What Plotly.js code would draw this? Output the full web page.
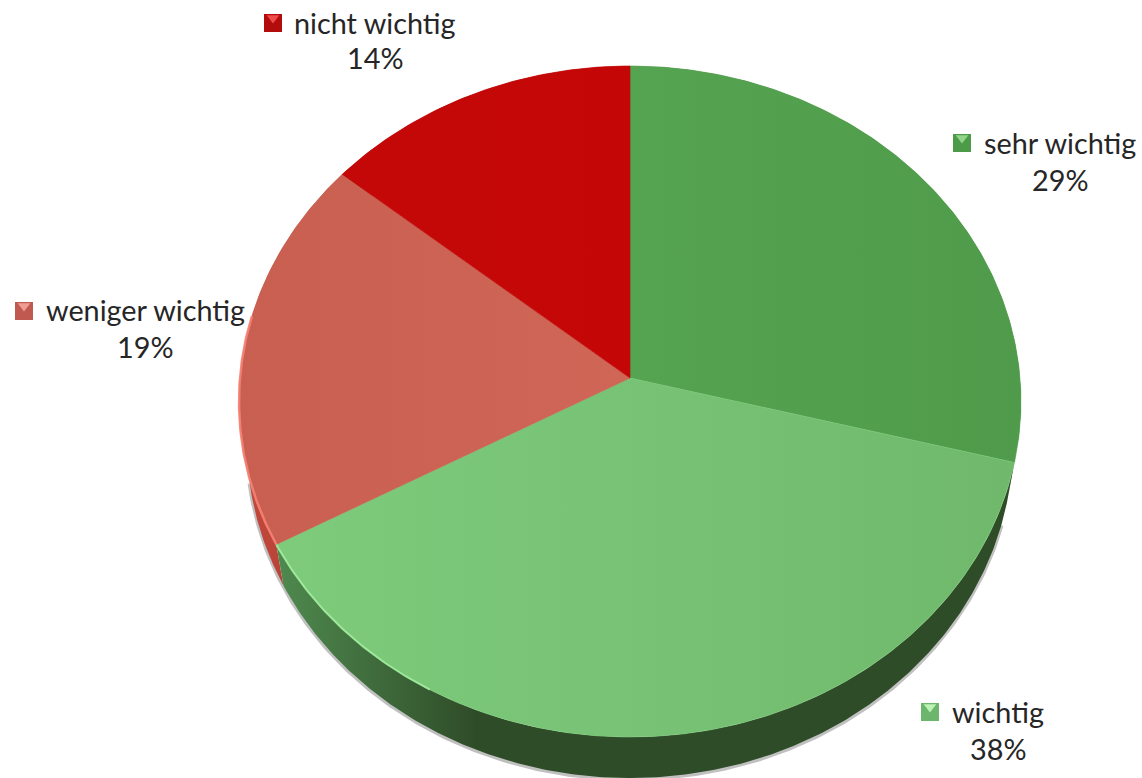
<!DOCTYPE html>
<html><head><meta charset="utf-8">
<script src="https://cdn.plot.ly/plotly-3.0.1.min.js"></script>
<style>html,body{margin:0;padding:0;background:#fff}#c{width:1142px;height:778px}</style>
</head><body><div id="c"></div>
<script>
// data
const categories = ['sehr wichtig','wichtig','weniger wichtig','nicht wichtig'];
const shares = [29,38,19,14];

// styling
const topColors = [['#55a451','#4f9b4b'],['#7ecb7c','#70b96c'],['#c95f50','#cf6656'],['#c40808','#c40606']];
const wallColors = [['#3c6d38','#3c6d38'],['#4f8a4f','#2f4c28'],['#c5493d','#a83a30'],['#8a1010','#8a1010']];
const keyBase = ['#4b9b49','#6cb56d','#c05a50','#b30c0c'];
const keyLight = ['#93d48d','#bcf2b4','#f09c92','#f04a4a'];
const keyPos = [[962,143],[930,712],[24,311],[273,23]];
const labelPos = [[1060,143,180],[998,712,749],[145,310,347],[375,23,58]];

// perspective projection of the pie's unit disc onto the page
const W=1142,H=778,CX=630,KX=390,CY=378,AY=307.4,PC=-0.07,DEPTH=41,WALLS=0.98;
function rim(frac,lower){
  const t=frac*2*Math.PI,u=Math.sin(t),v=-Math.cos(t),d=1+PC*v;
  const x=KX*u/d,y=(AY*v+CY)/d;
  return lower?[CX+x*WALLS,y+DEPTH]:[CX+x,y];
}
function arc(a,b,lower){
  const n=Math.max(2,Math.round(Math.abs(b-a)*720)),p=[];
  for(let i=0;i<=n;i++)p.push(rim(a+(b-a)*i/n,lower));
  return p;
}
const xs=p=>p.map(q=>q[0]), ys=p=>p.map(q=>q[1]);
const total=shares.reduce((a,b)=>a+b,0);
let run=0;
const spans=shares.map(v=>{const s=[run/total,(run+v)/total];run+=v;return s;});
const traces=[];
function grad(c,stops){return {type:'horizontal',colorscale:stops||[[0,c[0]],[1,c[1]]]};}

// soft shadow below the wall
const sh=arc(0.30,0.72,true);
traces.push({x:xs(sh),y:ys(sh).map(v=>v+1),mode:'lines',line:{color:'rgba(90,90,90,0.38)',width:4},hoverinfo:'skip'});

// wall of each slice
[0,2,3,1].forEach(i=>{
  const [a,b]=spans[i];
  const p=arc(a,b,true).concat(arc(b,a,false));
  const c=wallColors[i];
  traces.push({x:xs(p).concat(p[0][0]),y:ys(p).concat(p[0][1]),mode:'lines',line:{width:0},fill:'toself',
    fillgradient:grad(c,i===1?[[0,c[0]],[0.27,c[1]],[1,c[1]]]:null),hoverinfo:'skip'});
});

// top face of each slice
shares.forEach((v,i)=>{
  const [a,b]=spans[i];
  const p=[[CX,CY]].concat(arc(a,b,false),[[CX,CY]]);
  traces.push({x:xs(p),y:ys(p),mode:'lines',line:{width:0.6,color:topColors[i][0]},fill:'toself',
    fillgradient:grad(topColors[i]),name:categories[i],text:categories[i]+': '+v+'%',hoverinfo:'text'});
});

// lit rim edges
const lit1=arc(spans[1][1]-0.09,spans[1][1],false);
traces.push({x:xs(lit1),y:ys(lit1),mode:'lines',line:{color:'rgba(165,240,160,0.85)',width:2},hoverinfo:'skip'});
const lit2=arc(spans[2][0],spans[2][0]+0.11,false);
traces.push({x:xs(lit2),y:ys(lit2),mode:'lines',line:{color:'rgba(245,130,115,0.9)',width:2.5},hoverinfo:'skip'});

// legend keys
traces.push({x:keyPos.map(k=>k[0]),y:keyPos.map(k=>k[1]),mode:'markers',hoverinfo:'skip',
  marker:{symbol:'square',size:18,color:keyBase,line:{width:0}}});
traces.push({x:keyPos.map(k=>k[0]),y:keyPos.map(k=>k[1]-5),mode:'markers',hoverinfo:'skip',
  marker:{symbol:'triangle-down',size:11,color:keyLight,line:{width:0}}});

const font={family:'Lato, "Open Sans", sans-serif',size:28.8,color:'#262626'};
const annotations=[];
categories.forEach((c,i)=>{
  const [x,y1,y2]=labelPos[i];
  annotations.push({x,y:y1,text:c,showarrow:false,xanchor:'center',yanchor:'middle',font});
  annotations.push({x,y:y2,text:Math.round(shares[i]/total*100)+'%',showarrow:false,xanchor:'center',yanchor:'middle',font});
});

const hidden=r=>({range:r,visible:false,fixedrange:true});
Plotly.newPlot('c',traces,{
  width:W,height:H,margin:{l:0,r:0,t:0,b:0},showlegend:false,
  paper_bgcolor:'#fff',plot_bgcolor:'#fff',
  xaxis:hidden([0,W]),yaxis:hidden([H,0]),annotations
},{displayModeBar:false});
</script></body></html>
